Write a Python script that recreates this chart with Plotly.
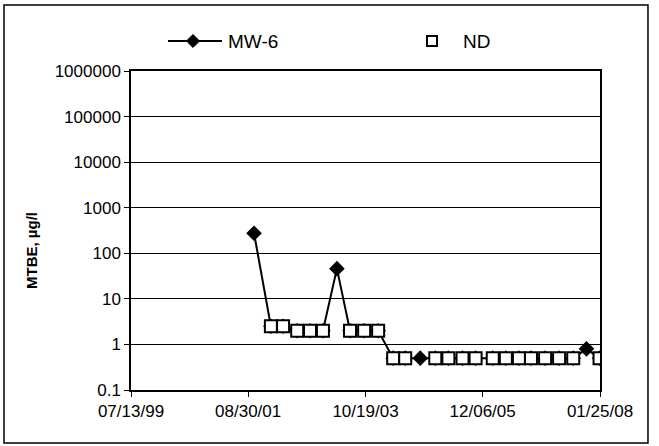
import plotly.graph_objects as go

dates = ['2001-10-08', '2002-01-28', '2002-04-19', '2002-07-22', '2002-10-15', '2003-01-09',
         '2003-04-12', '2003-07-08', '2003-10-10', '2004-01-11', '2004-04-20', '2004-07-09',
         '2004-10-17', '2005-01-25', '2005-04-22', '2005-07-25', '2005-10-20', '2006-02-11',
         '2006-05-09', '2006-08-04', '2006-10-23', '2007-01-25', '2007-04-28', '2007-07-31',
         '2007-10-27', '2008-01-22']
mtbe = [275, 2.5, 2.5, 2, 2, 2,
        46, 2, 2, 2, 0.5, 0.5,
        0.5, 0.5, 0.5, 0.5, 0.5, 0.5,
        0.5, 0.5, 0.5, 0.5, 0.5, 0.5,
        0.8, 0.5]
nd_flag = [0, 1, 1, 1, 1, 1,
           0, 1, 1, 1, 1, 1,
           0, 1, 1, 1, 1, 1,
           1, 1, 1, 1, 1, 1,
           0, 1]

x_ticks = ['1999-07-13', '2001-08-30', '2003-10-19', '2005-12-06', '2008-01-25']
x_tick_labels = ['07/13/99', '08/30/01', '10/19/03', '12/06/05', '01/25/08']
y_ticks = [0.1, 1, 10, 100, 1000, 10000, 100000, 1000000]
y_tick_labels = ['0.1', '1', '10', '100', '1000', '10000', '100000', '1000000']
series_names = ['MW-6', 'ND']

nd_dates = [d for d, f in zip(dates, nd_flag) if f]
nd_vals = [v for v, f in zip(mtbe, nd_flag) if f]

FONT = "Arial, Liberation Sans, sans-serif"

fig = go.Figure()
fig.add_trace(go.Scatter(
    x=dates, y=mtbe, mode='lines+markers', name=series_names[0],
    line=dict(color='black', width=2),
    marker=dict(symbol='diamond', size=12, color='black'),
))
fig.add_trace(go.Scatter(
    x=nd_dates, y=nd_vals, mode='markers', name=series_names[1],
    marker=dict(symbol='square', size=12, color='white',
                line=dict(color='black', width=2)),
))

# manual legend (paper coordinates)
ly = 1.094
dx, dy = 0.0139, 0.0204
dcx = 0.1322
sq_cx, sqx, sqy = 0.6418, 0.0107, 0.0157

fig.update_layout(
    width=659, height=446,
    margin=dict(l=131, r=59, t=71, b=56),
    paper_bgcolor='white', plot_bgcolor='white',
    font=dict(family=FONT, size=17, color='black'),
    showlegend=False,
    xaxis=dict(
        type='date', range=[x_ticks[0], x_ticks[-1]],
        tickmode='array', tickvals=x_ticks, ticktext=x_tick_labels,
        showline=True, linecolor='black', linewidth=1.5, mirror=True,
        ticks='outside', ticklen=5, tickcolor='black',
        showgrid=False, zeroline=False,
        tickfont=dict(family=FONT, size=17),
    ),
    yaxis=dict(
        type='log', range=[-1, 6],
        tickmode='array', tickvals=y_ticks, ticktext=y_tick_labels,
        showline=True, linecolor='black', linewidth=1.5, mirror=True,
        ticks='outside', ticklen=5, tickcolor='black',
        showgrid=True, gridcolor='black', gridwidth=1,
        zeroline=False,
        tickfont=dict(family=FONT, size=17),
    ),
    annotations=[
        dict(text='<b>MTBE, µg/l</b>', xref='paper', yref='paper',
             x=-0.211, y=0.436, textangle=-90, showarrow=False,
             xanchor='center', yanchor='middle',
             font=dict(family=FONT, size=15, color='black')),
        dict(text=series_names[0], xref='paper', yref='paper', x=0.2025, y=ly,
             showarrow=False, xanchor='left', yanchor='middle',
             font=dict(family=FONT, size=19, color='black')),
        dict(text=series_names[1], xref='paper', yref='paper', x=0.7035, y=ly,
             showarrow=False, xanchor='left', yanchor='middle',
             font=dict(family=FONT, size=19, color='black')),
    ],
    shapes=[
        dict(type='rect', xref='paper', yref='paper',
             x0=-0.2708, x1=1.1023, y0=-0.1661, y1=1.2069,
             line=dict(color='black', width=1.5), fillcolor='rgba(0,0,0,0)', layer='below'),
        dict(type='line', xref='paper', yref='paper', x0=0.0789, x1=0.1940, y0=ly, y1=ly,
             line=dict(color='black', width=2)),
        dict(type='path', xref='paper', yref='paper',
             path=f'M {dcx - dx} {ly} L {dcx} {ly + dy} L {dcx + dx} {ly} L {dcx} {ly - dy} Z',
             fillcolor='black', line=dict(color='black', width=1)),
        dict(type='rect', xref='paper', yref='paper',
             x0=sq_cx - sqx, x1=sq_cx + sqx, y0=ly - sqy, y1=ly + sqy,
             fillcolor='white', line=dict(color='black', width=2)),
    ],
)

fig.write_html("out.html",
               config={'displayModeBar': False},
               post_script="document.body.style.margin='0';document.body.style.overflow='hidden';")
